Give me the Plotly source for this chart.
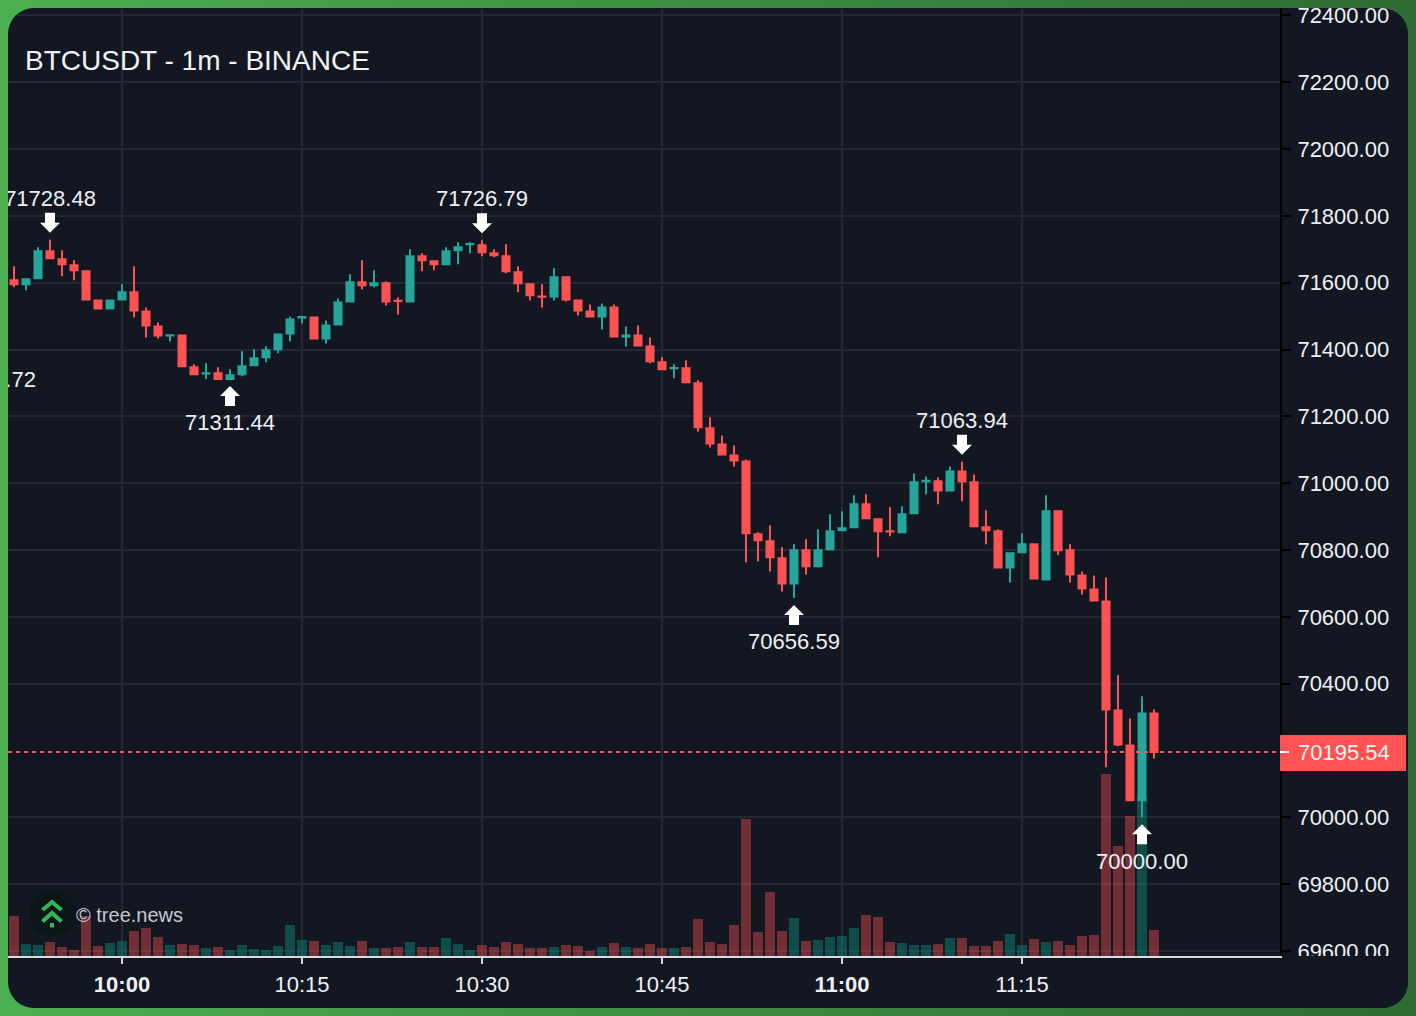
import pandas as pd
import plotly.graph_objects as go

times = pd.date_range("2024-04-12 09:51", periods=96, freq="min").strftime("%Y-%m-%d %H:%M:%S").tolist()

opens = [71607,71595,71613,71694,71670,71652,71634,71547,71523,71550,
         71571,71514,71469,71442,71442,71347,71328,71329,71312,71326,
         71353,71377,71401,71448,71496,71496,71433,71475,71544,71601,
         71592,71598,71546,71544,71679,71664,71655,71697,71715,71712,
         71688,71679,71631,71595,71559,71559,71616,71547,71514,71499,
         71526,71439,71442,71409,71362,71344,71344,71299,71164,71116,
         71083,71065,70847,70826,70775,70700,70799,70751,70802,70859,
         70868,70937,70892,70856,70853,70910,71006,71006,70978,71035,
         71003,70868,70856,70748,70793,70817,70712,70916,70799,70724,
         70682,70646,70320,70215,70051,70311]
highs = [71649,71613,71706,71728.48,71697,71667,71637,71550,71550,71595,
         71649,71526,71481,71445,71445,71356,71359,71347,71341,71395,
         71401,71410,71448,71499,71499,71499,71487,71553,71625,71667,
         71637,71604,71556,71700,71688,71667,71706,71721,71721,71726.79,
         71700,71715,71649,71598,71595,71643,71619,71550,71535,71538,
         71535,71469,71472,71436,71377,71356,71368,71308,71197,71143,
         71113,71071,70853,70874,70808,70817,70832,70862,70907,70916,
         70964,70967,70895,70928,70931,71029,71020,71017,71050,71063.94,
         71026,70919,70862,70793,70850,70820,70964,70919,70817,70736,
         70724,70718,70425,70296,70362,70323]
lows = [71586,71577,71613,71670,71619,71607,71547,71520,71520,71547,
        71496,71436,71433,71424,71347,71323,71311.5,71312,71311.44,71320,
        71350,71362,71389,71424,71478,71430,71418,71472,71541,71580,
        71586,71532,71505,71541,71634,71637,71652,71655,71688,71679,
        71676,71628,71571,71547,71526,71547,71544,71502,71496,71460,
        71436,71409,71409,71359,71338,71314,71299,71155,71107,71083,
        71050,70763,70766,70736,70676,70656.59,70727,70748,70799,70856,
        70865,70892,70778,70841,70850,70907,70967,70937,70975,70946,
        70868,70817,70745,70703,70790,70712,70709,70784,70703,70667,
        70646,70150,70213,70048,70000.00,70176]
closes = [71595,71610,71694,71673,71655,71637,71550,71523,71547,71571,
          71517,71472,71442,71443,71350,71326,71329,71312,71323,71350,
          71374,71398,71445,71490,71497,71433,71472,71541,71601,71592,
          71598,71544,71545,71679,71667,71655,71694,71706,71716,71691,
          71682,71634,71598,71562,71558,71616,71550,71517,71499,71526,
          71439,71442,71412,71365,71341,71345,71302,71167,71119,71086,
          71068,70850,70829,70778,70700,70799,70751,70799,70856,70865,
          70937,70895,70856,70855,70907,71003,71007,70978,71035,71006,
          70871,70859,70748,70790,70817,70715,70916,70799,70727,70685,
          70649,70323,70218,70051,70311,70195.54]
volumes = [80,24,22,28,18,12,80,20,26,30,
           50,56,38,22,24,22,16,18,12,22,
           14,12,20,62,32,30,22,28,20,30,
           16,16,18,28,18,18,36,24,12,22,
           18,28,24,16,16,18,22,20,10,18,
           26,18,16,24,16,16,18,74,28,24,
           62,274,48,128,50,76,30,32,38,40,
           56,82,78,28,26,22,22,24,36,36,
           20,20,30,44,22,34,28,30,22,40,
           42,364,220,280,320,52]

# swing lows / highs that get an arrow and a price label
low_times = ["2024-04-12 09:49:00", "2024-04-12 10:09:00", "2024-04-12 10:56:00", "2024-04-12 11:25:00"]
low_prices = [71439.72, 71311.44, 70656.59, 70000.00]
high_times = ["2024-04-12 09:54:00", "2024-04-12 10:30:00", "2024-04-12 11:10:00"]
high_prices = [71728.48, 71726.79, 71063.94]

last_price = 70195.54
# 70200 sits behind the last price box, so it has no tick
price_ticks = [69600, 69800, 70000, 70400, 70600, 70800, 71000, 71200, 71400, 71600, 71800, 72000, 72200, 72400]
time_ticks = ["2024-04-12 10:00:00", "2024-04-12 10:15:00", "2024-04-12 10:30:00",
              "2024-04-12 10:45:00", "2024-04-12 11:00:00", "2024-04-12 11:15:00"]
time_labels = ["<b>10:00</b>", "10:15", "10:30", "10:45", "<b>11:00</b>", "11:15"]

FONT = "Liberation Sans"
BG = "#131722"
RED = "#ff5252"
GREEN = "#26a69a"
GRID = "#242833"
TEXT = "#eef0f4"
PLOT_W = 1272
PLOT_H = 948


def down_arrow():
    return "M-5 27 L5 27 L5 17 L10 17 L0 7 L-10 17 L-5 17 Z"


def up_arrow():
    return "M-5 -27 L5 -27 L5 -17 L10 -17 L0 -7 L-10 -17 L-5 -17 Z"


def pin(x, y, path, color="white"):
    return dict(type="path", xref="x", yref="y2", xsizemode="pixel", ysizemode="pixel",
                xanchor=x, yanchor=y, path=path, fillcolor=color, line_width=0, layer="above")


def corner(path, **kw):
    # pixel shape measured from the bottom left corner of the plot area
    return dict(type="path", xref="paper", yref="paper", xsizemode="pixel", ysizemode="pixel",
                xanchor=0, yanchor=0, path=path, layer="above", **kw)


fig = go.Figure()

bar_colors = ["rgba(10,150,130,0.42)" if c >= o else "rgba(255,82,82,0.4)" for o, c in zip(opens, closes)]
fig.add_trace(go.Bar(x=times, y=volumes, width=50000, marker_color=bar_colors, marker_line_width=0,
                     yaxis="y", hoverinfo="skip"))

fig.add_trace(go.Candlestick(x=times, open=opens, high=highs, low=lows, close=closes, yaxis="y2",
                             whiskerwidth=0,
                             increasing=dict(line=dict(color=GREEN, width=2), fillcolor=GREEN),
                             decreasing=dict(line=dict(color=RED, width=2), fillcolor=RED)))

# invisible markers push the labels clear of the arrows
fig.add_trace(go.Scatter(x=low_times, y=low_prices, yaxis="y2", mode="markers+text",
                         marker=dict(size=54, opacity=0), text=[f"{p:.2f}" for p in low_prices],
                         textposition="bottom center", textfont=dict(family=FONT, size=22, color=TEXT),
                         hoverinfo="skip"))
fig.add_trace(go.Scatter(x=high_times, y=high_prices, yaxis="y2", mode="markers+text",
                         marker=dict(size=44, opacity=0), text=[f"{p:.2f}" for p in high_prices],
                         textposition="top center", textfont=dict(family=FONT, size=22, color=TEXT),
                         hoverinfo="skip"))

shapes = []
for t, p in zip(low_times[1:], low_prices[1:]):
    shapes.append(pin(t, p, up_arrow()))
for t, p in zip(high_times, high_prices):
    shapes.append(pin(t, p, down_arrow()))

# last price line, its label box and the white tick
shapes.append(dict(type="line", xref="paper", yref="y2", x0=0, x1=1, y0=last_price, y1=last_price,
                   line=dict(color=RED, width=2, dash="4px,4px"), layer="above"))
shapes.append(dict(type="rect", xref="paper", yref="y2", xsizemode="pixel", ysizemode="pixel",
                   xanchor=1, yanchor=last_price, x0=0, x1=126, y0=-19, y1=17,
                   fillcolor=RED, line_width=0, layer="above"))
shapes.append(dict(type="line", xref="paper", yref="y2", xsizemode="pixel", ysizemode="pixel",
                   xanchor=1, yanchor=last_price, x0=0, x1=9, y0=0, y1=0,
                   line=dict(color="white", width=2), layer="above"))

# hides the part of the lowest price label under the time axis
shapes.append(dict(type="rect", xref="paper", yref="paper", xsizemode="pixel", ysizemode="pixel",
                   xanchor=1, yanchor=0, x0=2, x1=128, y0=0, y1=-53,
                   fillcolor=BG, line_width=0, layer="above"))

# tree.news logo
shapes.append(dict(type="circle", xref="paper", yref="paper", xsizemode="pixel", ysizemode="pixel",
                   xanchor=0, yanchor=0, x0=21, x1=67, y0=20, y1=66,
                   fillcolor="#0c1618", line_width=0, layer="above"))
logo_line = dict(color="#34b75a", width=4)
shapes.append(corner("M34.5 46 L44 54 L53.5 46", line=logo_line))
shapes.append(corner("M34.5 34.5 L44 43 L53.5 34.5", line=logo_line))
shapes.append(corner("M42 33 L46 33 L46 28.5 L42 28.5 Z", fillcolor="#34b75a", line_width=0))

annotations = [
    dict(xref="paper", yref="paper", x=15 / PLOT_W, y=(956 - 60) / PLOT_H, text="BTCUSDT - 1m - BINANCE",
         showarrow=False, xanchor="left", yanchor="middle", font=dict(family=FONT, size=28, color="#f2f3f5")),
    dict(xref="paper", yref="paper", x=66 / PLOT_W, y=(956 - 915) / PLOT_H, text="© tree.news",
         showarrow=False, xanchor="left", yanchor="middle", font=dict(family=FONT, size=20, color="#c6c8cd")),
    dict(xref="paper", yref="y2", x=1, y=last_price, xanchor="left", xshift=16, yshift=-1, yanchor="middle",
         text=f"{last_price:.2f}", showarrow=False, font=dict(family=FONT, size=22, color="#f4f4f4")),
]

fig.update_layout(
    width=1400, height=1000,
    margin=dict(l=0, r=128, t=0, b=52, pad=0, autoexpand=False),
    paper_bgcolor=BG, plot_bgcolor=BG,
    showlegend=False, hovermode=False, boxgap=1 / 6, bargap=0,
    xaxis=dict(type="date", range=["2024-04-12 09:50:30", "2024-04-12 11:36:30"],
               rangeslider=dict(visible=False), tickmode="array", tickvals=time_ticks, ticktext=time_labels,
               showgrid=True, gridcolor=GRID, gridwidth=2, zeroline=False,
               showline=True, linecolor="#d8dae2", linewidth=2,
               ticks="outside", tickcolor="#d8dae2", ticklen=6, tickwidth=2, ticklabelstandoff=2,
               tickfont=dict(family=FONT, size=22, color=TEXT), tickangle=0),
    yaxis=dict(range=[0, 2 * PLOT_H], visible=False, fixedrange=True),
    yaxis2=dict(range=[69585, 72422], overlaying="y", side="right", anchor="x",
                tickmode="array", tickvals=price_ticks, tickformat=".2f",
                showgrid=True, gridcolor=GRID, gridwidth=2, zeroline=False,
                showline=True, linecolor="#000000", linewidth=2,
                ticks="outside", tickcolor="#000000", ticklen=9, tickwidth=2,
                ticklabelstandoff=2, ticklabeloverflow="allow",
                tickfont=dict(family=FONT, size=22, color=TEXT)),
    shapes=shapes, annotations=annotations,
)

page_css = """
document.body.style.background = 'linear-gradient(90deg,#4caf50,#2e6b33)';
var plotDiv = document.querySelector('.plotly-graph-div');
plotDiv.style.borderRadius = '26px';
plotDiv.style.overflow = 'hidden';
"""
fig.write_html("out.html", config={"displayModeBar": False}, post_script=page_css)
